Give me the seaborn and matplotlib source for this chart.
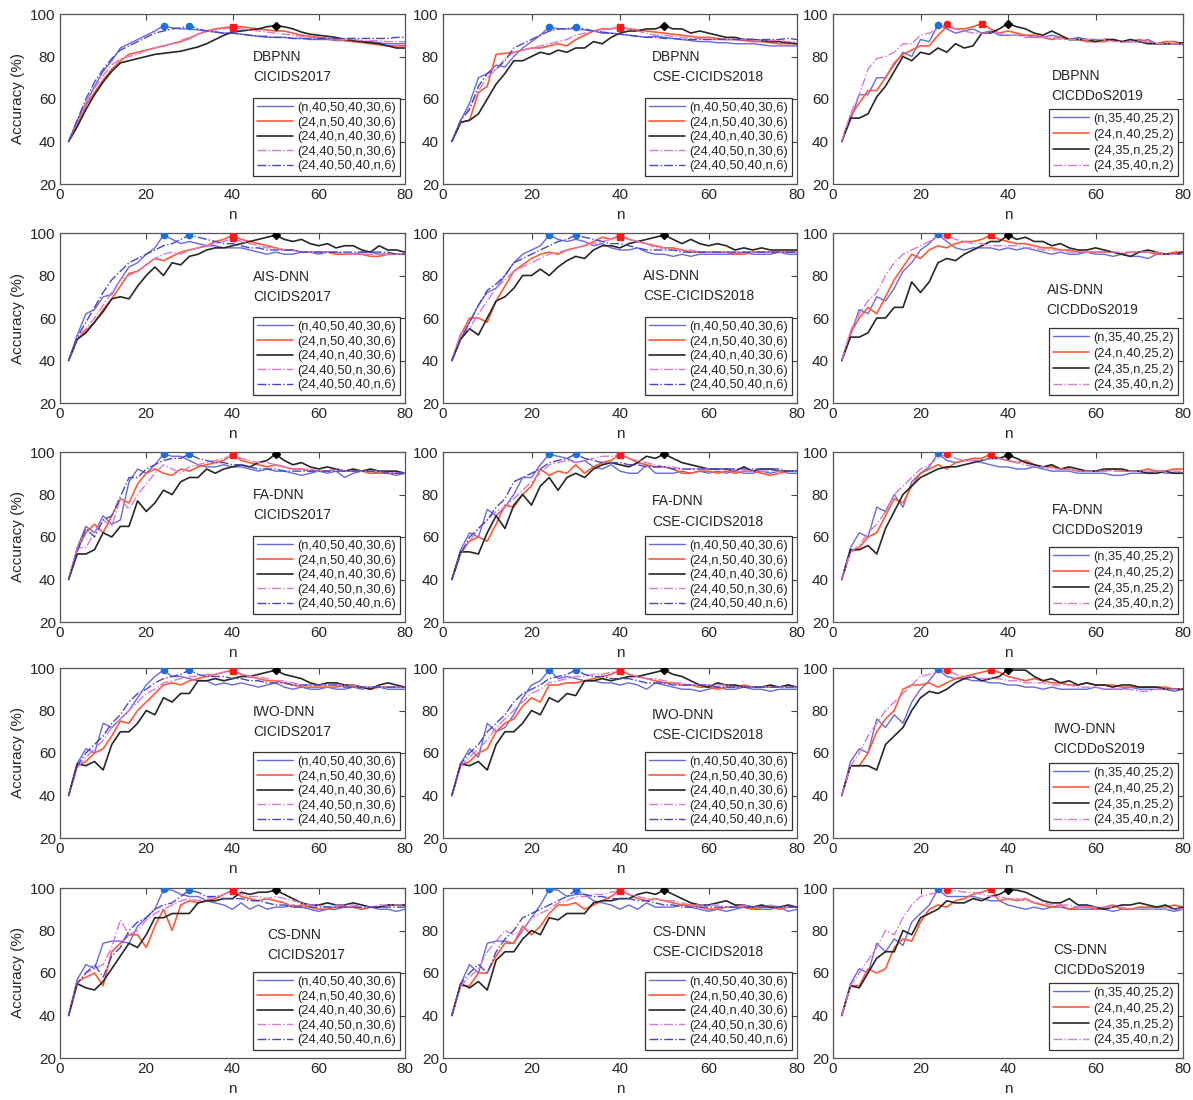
import numpy as np
import pandas as pd
import matplotlib
matplotlib.use("Agg")
import matplotlib.pyplot as plt
import seaborn as sns

# ---------------- data ----------------
n_values = list(range(2, 82, 2))

models = ["DBPNN", "AIS-DNN", "FA-DNN", "IWO-DNN", "CS-DNN"]
datasets = ["CICIDS2017", "CSE-CICIDS2018", "CICDDoS2019"]
labels_5 = ["(n,40,50,40,30,6)", "(24,n,50,40,30,6)", "(24,40,n,40,30,6)",
            "(24,40,50,n,30,6)", "(24,40,50,40,n,6)"]
labels_4 = ["(n,35,40,25,2)", "(24,n,40,25,2)", "(24,35,n,25,2)", "(24,35,40,n,2)"]

# DBPNN - CICIDS2017
p1_s1 = [40, 50, 58, 66, 73, 78, 84, 86, 88, 90,
         92, 94.5, 93.5, 93, 93, 92.5, 92, 91.5, 91, 91,
         90.5, 90, 89.5, 89, 89, 89, 88.5, 88.5, 88, 88,
         88, 87.5, 87.5, 87, 87, 87, 86.5, 86, 86, 86]
p1_s2 = [40, 48, 57, 63, 69, 74, 78, 81, 82, 83,
         84, 85, 86, 87, 88.5, 90.5, 92, 93, 93.5, 94,
         94, 93.5, 93, 92.5, 92, 92, 91, 90, 89.5, 89,
         88.5, 88, 87.5, 87, 86.5, 86, 85.5, 85, 85, 85]
p1_s3 = [40, 47, 55, 62, 68, 73, 77, 78, 79, 80,
         81, 81.5, 82, 82.5, 83.5, 84.5, 86, 88, 90, 91.5,
         92, 92.5, 93, 94, 94.5, 94, 93, 91.5, 90.5, 90,
         89.5, 89, 88, 87.5, 87, 86.5, 86, 85, 84, 84]
p1_s4 = [40, 49, 58, 65, 71, 76, 79, 80, 81, 83,
         84, 85, 86, 87.5, 89, 90.5, 91.5, 92.5, 93, 93.5,
         93, 92.5, 92, 91.5, 91, 90.5, 90, 89.5, 89, 88.5,
         88.5, 88, 88, 88, 87.5, 87.5, 87.5, 87, 87, 87]
p1_s5 = [40, 50, 60, 68, 74, 79, 83, 85, 87, 89,
         91, 92, 93, 93.5, 94.5, 93, 92, 91.5, 91, 91,
         90.5, 90, 89.5, 89.5, 89, 89, 88.5, 88.5, 88.5, 88.5,
         88.5, 88.5, 88.5, 88.5, 88.5, 88.5, 88.5, 88.5, 89, 89]

# DBPNN - CSE-CICIDS2018
p2_s1 = [40, 50, 58, 70, 72, 76, 75, 80, 84, 87,
         90, 94, 93, 93, 93, 92.5, 92, 91, 91, 90.5,
         90, 89.5, 89, 89.5, 89, 88.5, 88, 87.5, 87, 87,
         86.5, 86.5, 86, 86, 86, 85.5, 85, 85, 85, 85]
p2_s2 = [40, 49, 50, 63, 66, 81, 81.5, 82, 83, 84,
         84, 85, 86, 85, 88, 90, 92, 93, 93, 94,
         93, 92.5, 92, 91.5, 91, 90.5, 90, 89.5, 89, 89,
         88.5, 88, 88, 87.5, 87, 87, 86.5, 86, 86, 86]
p2_s3 = [40, 49, 50, 53, 60, 67, 72, 78, 78, 80,
         82, 81, 83, 82, 84, 84, 87, 86, 89, 91,
         92, 92, 93, 93, 94.5, 93, 93, 91, 92, 91,
         90, 89, 89, 88, 88, 87.5, 87, 87, 86.5, 86]
p2_s4 = [40, 50, 56, 64, 70, 74, 79, 82, 83, 84,
         85, 86, 87, 88, 90, 91, 92, 92.5, 93, 93.5,
         93, 92, 91, 90, 90, 89.5, 89, 88.5, 88.5, 88,
         88, 88, 88, 88, 87.5, 87.5, 87.5, 87.5, 87, 87]
p2_s5 = [40, 50, 55, 66, 72, 74, 78, 84, 86, 88,
         90, 92, 93, 93, 94, 93, 92, 91.5, 91, 90.5,
         90, 89.5, 89, 89, 88.5, 88.5, 88, 88, 88, 88,
         88, 88, 88, 88, 88, 88, 88, 88, 88.5, 88]

# DBPNN - CICDDoS2019
p3_s1 = [40, 50, 62, 62, 70, 70, 76, 82, 80, 88,
         87, 95, 93, 91, 92, 93, 91, 92, 90, 90,
         90, 90, 89, 89, 90, 89, 88, 89, 88, 88,
         87, 88, 87, 87, 87, 88, 86, 86, 86, 85.5]
p3_s2 = [40, 52, 58, 64, 64, 70, 77, 81, 83, 85,
         85, 90, 94, 93, 93, 94, 95.5, 93, 91, 92,
         91, 90, 90, 89, 88, 89, 88, 88, 87, 87,
         87, 88, 87, 87, 88, 87, 86, 87, 87, 86]
p3_s3 = [40, 51, 51, 53, 61, 66, 73, 80, 78, 82,
         81, 84, 82, 86, 84, 85, 91, 91, 93, 95.5,
         94, 93, 91, 90, 92, 90, 88, 88, 88, 87,
         88, 88, 87, 88, 87, 86, 86, 86, 86, 86.5]
p3_s4 = [40, 53, 62, 74, 79, 80, 82, 86, 86, 90,
         91, 93, 95.2, 93, 92, 91, 91, 91, 91, 90,
         90, 89, 89, 89, 89, 88, 88, 88, 88, 88,
         88, 87, 87, 87, 87, 87, 86, 86, 86, 86]

# AIS-DNN - CICIDS2017
p4_s1 = [40, 52, 62, 64, 70, 71, 78, 84, 86, 90,
         93, 99, 97, 95, 96, 95, 94, 94, 93, 93,
         93, 92, 91, 90, 91, 90, 90, 91, 91, 90,
         91, 91, 90, 90, 91, 91, 90, 90, 90, 90]
p4_s2 = [40, 50, 54, 58, 64, 69, 75, 81, 82, 85,
         88, 87, 89, 91, 92, 93, 94, 96, 97, 99,
         97, 96, 95, 94, 93, 92, 92, 91, 91, 91,
         91, 90, 90, 90, 90, 89, 89, 90, 90, 90]
p4_s3 = [40, 50, 53, 58, 63, 69, 70, 69, 75, 80,
         84, 80, 86, 85, 89, 90, 92, 93, 93, 94,
         95, 96, 97, 98, 99, 97, 96, 97, 95, 94,
         95, 93, 94, 94, 92, 91, 94, 92, 92, 91]
p4_s4 = [40, 51, 55, 60, 66, 72, 78, 80, 82, 85,
         88, 90, 91, 90, 92, 93, 94, 95, 96, 97.5,
         96, 95, 94, 93, 93, 92, 92, 91, 91, 91,
         91, 91, 90, 90, 90, 90, 90, 90, 90, 90]
p4_s5 = [40, 51, 58, 65, 72, 78, 82, 86, 88, 90,
         92, 94, 95, 97, 99, 98, 97, 96, 95, 95,
         94, 93, 93, 92, 92, 92, 92, 91, 91, 91,
         91, 91, 91, 91, 91, 91, 91, 91, 90, 90]

# AIS-DNN - CSE-CICIDS2018
p5_s1 = [40, 50, 58, 66, 72, 74, 80, 86, 90, 92,
         94, 99, 97, 96, 97, 96, 94, 95, 93, 92,
         92, 93, 91, 90, 90, 89, 90, 89, 90, 90,
         90, 90, 90, 91, 90, 90, 90, 91, 90, 90]
p5_s2 = [40, 52, 60, 60, 58, 68, 75, 82, 85, 88,
         90, 91, 90, 92, 93, 94, 96, 98, 97, 99,
         97, 96, 95, 94, 93, 93, 92, 91, 91, 91,
         91, 91, 90, 90, 91, 91, 91, 91, 91, 91]
p5_s3 = [40, 50, 55, 52, 60, 68, 70, 74, 80, 80,
         83, 80, 84, 87, 89, 88, 92, 94, 94, 93,
         95, 96, 97, 98, 99, 97, 95, 97, 95, 94,
         95, 94, 92, 93, 92, 93, 92, 92, 92, 92]
p5_s4 = [40, 53, 55, 62, 68, 74, 78, 82, 84, 86,
         88, 90, 91, 92, 93, 94, 95, 96, 97, 98,
         97, 96, 95, 93, 93, 92, 92, 92, 91, 91,
         91, 91, 91, 91, 91, 91, 91, 91, 91, 91]
p5_s5 = [40, 50, 58, 66, 73, 76, 80, 86, 88, 90,
         92, 94, 96, 97, 99, 98, 97, 96, 95, 95,
         94, 93, 92, 92, 92, 92, 91, 91, 91, 91,
         91, 91, 91, 91, 91, 91, 91, 91, 91, 91]

# AIS-DNN - CICDDoS2019
p6_s1 = [40, 52, 64, 62, 70, 68, 74, 82, 86, 92,
         95, 99.3, 96, 93, 92, 93, 93, 93, 92, 93,
         92, 93, 92, 91, 90, 91, 90, 90, 91, 90,
         90, 89, 90, 89, 89, 88, 90, 90, 90, 90]
p6_s2 = [40, 53, 60, 65, 62, 70, 78, 84, 90, 88,
         92, 94, 93, 95, 96, 96, 97, 99, 97, 96,
         95, 95, 94, 93, 93, 92, 92, 91, 91, 91,
         91, 91, 90, 91, 91, 91, 90, 90, 91, 91]
p6_s3 = [40, 51, 51, 53, 60, 60, 65, 65, 77, 72,
         77, 86, 88, 87, 90, 92, 94, 96, 96, 99,
         97, 98, 96, 96, 94, 95, 93, 92, 92, 93,
         92, 91, 90, 89, 91, 92, 91, 90, 90, 91]
p6_s4 = [40, 54, 62, 68, 72, 80, 86, 90, 92, 94,
         96, 98, 99, 97, 96, 95, 95, 94, 94, 94,
         94, 93, 93, 92, 92, 92, 91, 91, 91, 91,
         91, 91, 91, 91, 91, 91, 91, 90, 90, 90]

# FA-DNN - CICIDS2017
p7_s1 = [40, 55, 65, 62, 70, 66, 68, 86, 92, 90,
         94, 99, 98, 98, 96, 94, 93, 93, 94, 93,
         93, 92, 91, 92, 91, 91, 90, 89, 90, 91,
         90, 91, 88, 90, 91, 91, 90, 90, 89, 90]
p7_s2 = [40, 54, 62, 66, 62, 70, 78, 76, 85, 90,
         92, 90, 89, 92, 91, 93, 94, 95, 96, 99,
         96, 95, 94, 93, 94, 93, 92, 92, 91, 91,
         91, 92, 91, 91, 91, 90, 90, 90, 90, 90]
p7_s3 = [40, 52, 52, 54, 62, 60, 65, 65, 77, 72,
         76, 82, 80, 86, 88, 88, 92, 90, 92, 93,
         94, 93, 95, 96, 99, 96, 94, 95, 93, 92,
         93, 92, 91, 92, 91, 92, 91, 91, 91, 90]
p7_s4 = [40, 55, 55, 62, 68, 65, 78, 73, 80, 85,
         90, 94, 92, 90, 93, 94, 95, 96, 97, 98.5,
         97, 96, 95, 95, 94, 93, 92, 92, 92, 91,
         91, 92, 91, 91, 91, 91, 91, 90, 90, 90]
p7_s5 = [40, 53, 64, 60, 68, 70, 79, 88, 88, 92,
         94, 96, 97, 97, 99, 97, 96, 95, 95, 94,
         94, 93, 92, 92, 92, 91, 91, 91, 91, 91,
         91, 91, 91, 91, 91, 91, 91, 90, 90, 90]

# FA-DNN - CSE-CICIDS2018
p8_s1 = [40, 54, 62, 60, 73, 70, 74, 80, 88, 88,
         94, 99, 98, 97, 95, 96, 93, 92, 94, 91,
         90, 90, 94, 90, 90, 90, 91, 90, 91, 90,
         91, 90, 91, 90, 90, 91, 90, 91, 90, 90]
p8_s2 = [40, 53, 58, 60, 58, 66, 75, 74, 80, 84,
         92, 89, 91, 90, 94, 90, 93, 95, 96, 99,
         97, 95, 94, 93, 93, 92, 90, 90, 91, 91,
         90, 91, 90, 91, 91, 90, 89, 90, 91, 91]
p8_s3 = [40, 53, 53, 52, 62, 70, 64, 75, 80, 75,
         84, 88, 82, 88, 90, 88, 92, 94, 95, 94,
         93, 95, 98, 97, 99, 97, 95, 94, 93, 92,
         92, 92, 91, 93, 91, 92, 92, 91, 91, 91]
p8_s4 = [40, 52, 58, 64, 68, 72, 74, 78, 82, 86,
         90, 94, 95, 96, 95, 96, 97, 98, 98, 98.5,
         97, 96, 95, 94, 93, 93, 92, 92, 92, 92,
         92, 92, 91, 91, 91, 91, 91, 91, 91, 91]
p8_s5 = [40, 52, 60, 64, 68, 74, 78, 86, 88, 90,
         92, 95, 96, 97, 99, 97, 96, 95, 95, 95,
         94, 94, 93, 93, 93, 92, 92, 92, 92, 92,
         92, 92, 92, 92, 92, 92, 92, 92, 91, 91]

# FA-DNN - CICDDoS2019
p9_s1 = [40, 55, 62, 60, 74, 72, 80, 74, 86, 90,
         93, 99.3, 96, 95, 96, 96, 95, 94, 93, 93,
         92, 92, 93, 92, 91, 91, 91, 90, 90, 90,
         90, 89, 89, 90, 90, 90, 91, 90, 90, 90]
p9_s2 = [40, 53, 55, 60, 62, 70, 78, 76, 84, 90,
         92, 94, 92, 95, 96, 97, 97, 99, 97, 96,
         95, 96, 94, 93, 93, 92, 92, 91, 91, 91,
         91, 92, 91, 91, 91, 92, 91, 91, 92, 92]
p9_s3 = [40, 54, 54, 56, 52, 64, 72, 80, 84, 88,
         90, 92, 93, 93, 94, 95, 96, 97, 97, 98.5,
         97, 95, 94, 93, 94, 92, 93, 92, 91, 91,
         92, 92, 92, 91, 91, 90, 90, 91, 90, 90]
p9_s4 = [40, 53, 56, 62, 66, 72, 80, 84, 88, 92,
         94, 97, 99, 97, 96, 96, 96, 97, 97, 96,
         95, 94, 93, 93, 92, 92, 92, 91, 91, 91,
         91, 91, 91, 91, 91, 91, 91, 91, 91, 91]

# IWO-DNN - CICIDS2017
p10_s1 = [40, 55, 62, 60, 74, 72, 76, 80, 86, 92,
          96, 99, 96, 96, 95, 94, 94, 92, 93, 92,
          93, 92, 91, 92, 93, 91, 90, 91, 90, 90,
          91, 90, 90, 91, 90, 91, 91, 90, 90, 90]
p10_s2 = [40, 54, 56, 60, 62, 68, 75, 74, 80, 84,
          88, 92, 93, 92, 94, 95, 96, 97, 98, 99,
          97, 96, 95, 94, 94, 93, 92, 91, 91, 91,
          91, 91, 92, 91, 91, 90, 91, 91, 91, 91]
p10_s3 = [40, 55, 54, 56, 52, 64, 70, 70, 74, 80,
          78, 86, 84, 88, 88, 94, 94, 95, 94, 95,
          96, 96, 97, 98, 99, 97, 96, 95, 93, 92,
          93, 93, 92, 92, 91, 90, 92, 93, 92, 91]
p10_s4 = [40, 53, 58, 62, 66, 72, 76, 80, 84, 88,
          90, 93, 94, 95, 96, 96, 97, 97, 98, 98.5,
          97, 96, 96, 95, 94, 94, 93, 92, 92, 92,
          92, 92, 92, 92, 91, 91, 91, 91, 91, 91]
p10_s5 = [40, 54, 60, 64, 68, 74, 78, 84, 88, 90,
          93, 95, 96, 97, 99, 97, 96, 96, 96, 95,
          95, 94, 94, 93, 93, 93, 92, 92, 92, 92,
          92, 92, 91, 91, 91, 91, 91, 91, 91, 91]

# IWO-DNN - CSE-CICIDS2018
p11_s1 = [40, 55, 62, 58, 74, 70, 72, 78, 86, 92,
          94, 99, 95, 96, 95, 94, 94, 93, 93, 92,
          93, 92, 90, 93, 92, 91, 90, 90, 89, 90,
          91, 90, 90, 91, 90, 90, 89, 90, 90, 90]
p11_s2 = [40, 54, 56, 60, 62, 70, 74, 76, 82, 86,
          84, 92, 92, 93, 93, 94, 95, 96, 97, 99,
          97, 96, 95, 94, 93, 93, 92, 92, 91, 91,
          90, 91, 91, 92, 91, 91, 91, 91, 92, 91]
p11_s3 = [40, 55, 54, 56, 52, 64, 70, 70, 74, 80,
          78, 86, 84, 88, 87, 94, 94, 95, 94, 95,
          96, 96, 97, 98, 99, 97, 96, 94, 92, 91,
          93, 92, 92, 91, 91, 91, 92, 91, 92, 91]
p11_s4 = [40, 54, 58, 62, 66, 72, 76, 80, 84, 88,
          90, 93, 94, 95, 96, 96, 97, 97, 98, 98.5,
          97, 96, 95, 95, 94, 93, 93, 92, 92, 92,
          92, 92, 91, 91, 91, 91, 91, 91, 91, 91]
p11_s5 = [40, 55, 60, 64, 70, 74, 78, 84, 88, 90,
          92, 95, 96, 97, 99, 97, 96, 96, 95, 95,
          95, 94, 93, 93, 93, 92, 92, 92, 92, 92,
          91, 91, 91, 91, 91, 91, 91, 91, 91, 91]

# IWO-DNN - CICDDoS2019
p12_s1 = [40, 56, 62, 60, 76, 72, 78, 74, 84, 90,
          94, 99.3, 96, 95, 95, 94, 94, 93, 93, 92,
          92, 91, 91, 90, 91, 90, 90, 90, 90, 91,
          90, 90, 90, 91, 90, 90, 90, 90, 89, 90]
p12_s2 = [40, 54, 54, 60, 70, 76, 80, 90, 92, 92,
          93, 91, 93, 95, 96, 97, 98, 99, 98, 96,
          95, 94, 95, 94, 93, 93, 92, 92, 93, 92,
          92, 92, 91, 91, 91, 91, 91, 91, 90, 90]
p12_s3 = [40, 54, 54, 54, 52, 64, 68, 72, 80, 86,
          89, 88, 90, 93, 95, 96, 94, 95, 96, 99.2,
          99, 99, 96, 94, 95, 93, 94, 92, 93, 92,
          92, 91, 92, 92, 91, 91, 91, 90, 90, 90]
p12_s4 = [40, 54, 60, 68, 74, 80, 84, 88, 92, 96,
          97, 98, 99, 97, 96, 96, 95, 95, 95, 94,
          94, 93, 93, 93, 92, 92, 92, 91, 91, 91,
          90, 90, 90, 90, 89, 89, 90, 90, 90, 90]

# CS-DNN - CICIDS2017
p13_s1 = [40, 57, 64, 62, 74, 75, 75, 74, 82, 86,
          90, 99.3, 99, 97, 96, 96, 94, 93, 92, 90,
          93, 90, 92, 90, 91, 91, 92, 91, 90, 89,
          90, 90, 91, 91, 90, 91, 90, 90, 89, 90]
p13_s2 = [40, 56, 58, 60, 54, 70, 74, 78, 78, 72,
          82, 90, 80, 92, 94, 93, 94, 95, 97, 99,
          96, 95, 94, 95, 94, 93, 91, 92, 91, 90,
          90, 91, 91, 91, 90, 91, 91, 92, 92, 92]
p13_s3 = [40, 55, 53, 52, 56, 62, 68, 74, 72, 78,
          86, 86, 88, 88, 88, 93, 94, 94, 95, 95,
          98, 97, 98, 98, 99, 97, 95, 93, 92, 92,
          93, 92, 92, 93, 92, 91, 91, 92, 92, 92]
p13_s4 = [40, 55, 60, 62, 64, 72, 85, 78, 80, 85,
          88, 90, 92, 94, 95, 94, 95, 96, 97, 98.5,
          97, 96, 96, 95, 96, 95, 94, 93, 92, 92,
          91, 92, 92, 92, 91, 91, 92, 92, 92, 92]
p13_s5 = [40, 55, 60, 64, 58, 68, 72, 80, 84, 86,
          90, 92, 93, 96, 99, 98, 96, 96, 95, 95,
          95, 94, 94, 93, 92, 92, 91, 91, 91, 91,
          91, 91, 91, 91, 91, 91, 91, 91, 91, 91]

# CS-DNN - CSE-CICIDS2018
p14_s1 = [40, 55, 64, 60, 74, 75, 75, 74, 80, 86,
          92, 99.3, 99, 96, 97, 97, 94, 93, 92, 90,
          92, 90, 93, 91, 91, 91, 92, 91, 90, 89,
          90, 89, 90, 91, 90, 90, 90, 91, 89, 90]
p14_s2 = [40, 54, 54, 60, 60, 68, 74, 74, 82, 78,
          82, 88, 92, 92, 93, 90, 92, 94, 96, 99,
          97, 95, 94, 95, 94, 93, 92, 92, 91, 90,
          90, 91, 91, 91, 90, 91, 91, 90, 91, 91]
p14_s3 = [40, 55, 53, 56, 52, 66, 70, 70, 76, 80,
          78, 86, 85, 88, 88, 88, 93, 94, 94, 95,
          95, 97, 98, 97, 99, 97, 95, 93, 92, 92,
          93, 94, 92, 92, 91, 92, 91, 91, 92, 91]
p14_s4 = [40, 54, 58, 62, 70, 75, 80, 78, 80, 86,
          88, 90, 93, 94, 96, 96, 97, 97, 98, 98.5,
          97, 96, 95, 95, 94, 94, 93, 92, 92, 92,
          92, 91, 91, 92, 91, 91, 92, 91, 91, 91]
p14_s5 = [40, 55, 60, 64, 60, 70, 76, 80, 86, 88,
          90, 92, 94, 96, 99, 97, 96, 96, 95, 95,
          95, 94, 94, 93, 92, 92, 91, 91, 91, 91,
          91, 91, 91, 91, 91, 91, 91, 91, 91, 91]

# CS-DNN - CICDDoS2019
p15_s1 = [40, 55, 62, 60, 74, 70, 76, 73, 84, 88,
          92, 99.3, 96, 96, 96, 96, 95, 94, 94, 92,
          91, 90, 91, 90, 91, 91, 90, 90, 90, 90,
          90, 89, 90, 90, 90, 90, 90, 90, 89, 90]
p15_s2 = [40, 54, 54, 62, 60, 62, 72, 76, 75, 84,
          90, 92, 91, 94, 95, 97, 98, 99.5, 94, 95,
          94, 95, 93, 92, 91, 92, 90, 91, 91, 90,
          91, 92, 90, 90, 91, 91, 91, 91, 92, 91]
p15_s3 = [40, 54, 53, 60, 67, 70, 70, 80, 78, 86,
          88, 90, 94, 93, 93, 95, 94, 96, 97, 99.2,
          99, 98, 96, 94, 93, 93, 95, 92, 92, 91,
          90, 91, 92, 92, 93, 92, 91, 92, 90, 91]
p15_s4 = [40, 54, 60, 66, 72, 80, 78, 86, 92, 96,
          97, 98, 99, 98.8, 98, 98, 97, 96, 96, 95,
          95, 94, 93, 93, 92, 92, 92, 91, 91, 91,
          91, 91, 91, 90, 90, 90, 90, 90, 90, 90]

panel_series = [
    [[p1_s1, p1_s2, p1_s3, p1_s4, p1_s5], [p2_s1, p2_s2, p2_s3, p2_s4, p2_s5], [p3_s1, p3_s2, p3_s3, p3_s4]],
    [[p4_s1, p4_s2, p4_s3, p4_s4, p4_s5], [p5_s1, p5_s2, p5_s3, p5_s4, p5_s5], [p6_s1, p6_s2, p6_s3, p6_s4]],
    [[p7_s1, p7_s2, p7_s3, p7_s4, p7_s5], [p8_s1, p8_s2, p8_s3, p8_s4, p8_s5], [p9_s1, p9_s2, p9_s3, p9_s4]],
    [[p10_s1, p10_s2, p10_s3, p10_s4, p10_s5], [p11_s1, p11_s2, p11_s3, p11_s4, p11_s5], [p12_s1, p12_s2, p12_s3, p12_s4]],
    [[p13_s1, p13_s2, p13_s3, p13_s4, p13_s5], [p14_s1, p14_s2, p14_s3, p14_s4, p14_s5], [p15_s1, p15_s2, p15_s3, p15_s4]],
]

# ---------------- style ----------------
sns.set_style("white")
plt.rcParams["font.family"] = ["Liberation Sans", "DejaVu Sans"]

line_styles = [
    dict(color="#6868e0", linestyle="-", linewidth=1.0),
    dict(color="#ff5a36", linestyle="-", linewidth=1.2),
    dict(color="#262626", linestyle="-", linewidth=1.2),
    dict(color="#d57ad5", linestyle="-.", linewidth=1.0),
    dict(color="#4646c8", linestyle="-.", linewidth=1.0),
]
peak_styles = [("o", "#1f70d6"), ("s", "#ff1a1a"), ("D", "#000000"), ("s", "#ff1a1a"), ("o", "#1f70d6")]

W, H = 1193, 1100
col_left = [60, 443, 833]
col_w = [345, 354, 350]
row_top = [14, 233, 452, 668, 888]
row_h = 170

text_pos = [
    [(0.56, 0.69), (0.59, 0.686), (0.625, 0.575)],
    [(0.56, 0.685), (0.565, 0.69), (0.61, 0.605)],
    [(0.56, 0.69), (0.59, 0.65), (0.625, 0.60)],
    [(0.56, 0.68), (0.59, 0.665), (0.63, 0.58)],
    [(0.60, 0.663), (0.59, 0.68), (0.63, 0.578)],
]

fig = plt.figure(figsize=(W / 100, H / 100), dpi=100)

for r in range(5):
    for c in range(3):
        rect = [col_left[c] / W, 1 - (row_top[r] + row_h) / H, col_w[c] / W, row_h / H]
        ax = fig.add_axes(rect)
        series = panel_series[r][c]
        labels = labels_4 if c == 2 else labels_5
        handles = []
        for i, vals in enumerate(series):
            assert len(vals) == len(n_values)
            sns.lineplot(x=n_values, y=vals, ax=ax, label=labels[i], legend=False, **line_styles[i])
            handles.append(ax.lines[-1])
        for i, vals in enumerate(series):
            k = int(np.argmax(vals))
            mk, mc = peak_styles[i]
            if c == 2 and i == 3:
                mk = "o"
            ax.plot([n_values[k]], [vals[k]], linestyle="none", marker=mk, color=mc,
                    markersize=4.5 if mk != "D" else 4, zorder=5)
        ax.set_xlim(0, 80)
        ax.set_ylim(20, 100)
        ax.set_xticks([0, 20, 40, 60, 80])
        ax.set_yticks([20, 40, 60, 80, 100])
        ax.tick_params(direction="in", top=True, right=True, length=4, width=0.8,
                       labelsize=11, labelcolor="#262626", color="#444444", pad=3)
        for sp in ax.spines.values():
            sp.set_color("#555555")
            sp.set_linewidth(0.9)
        ax.set_xlabel("n", fontsize=11, color="#262626", labelpad=4)
        if c == 0:
            ax.set_ylabel("Accuracy (%)", fontsize=11, color="#262626", labelpad=4)
        else:
            ax.set_ylabel("")
        tx, ty = text_pos[r][c]
        ax.text(tx, ty, f"{models[r]}\n{datasets[c]}", transform=ax.transAxes,
                fontsize=10, ha="left", va="center", linespacing=1.55, color="#262626")
        leg = ax.legend(handles=handles, labels=labels, loc="lower right",
                        bbox_to_anchor=(0.985, 0.045), borderaxespad=0,
                        fontsize=9.3, frameon=True, fancybox=False, framealpha=1,
                        edgecolor="#333333", handlelength=2.8, handletextpad=0.3,
                        labelspacing=0.3 if c == 2 else 0.2, borderpad=0.3)
        leg.get_frame().set_linewidth(0.9)

fig.savefig("out.png", dpi=100)
